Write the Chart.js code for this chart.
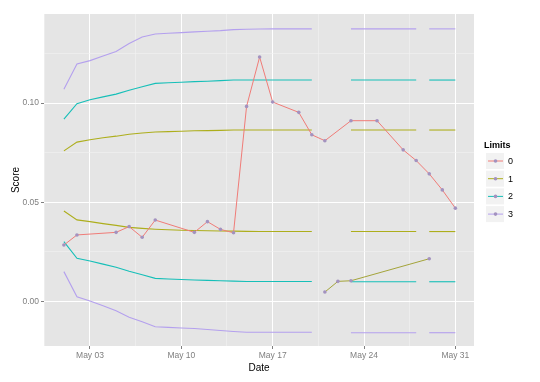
<!DOCTYPE html>
<html>
<head>
<meta charset="utf-8">
<script src="https://cdn.jsdelivr.net/npm/chart.js@4.4.1/dist/chart.umd.min.js"></script>
<style>
  html, body { margin: 0; padding: 0; background: #fff; }
  #wrap { width: 540px; height: 382px; position: relative; }
</style>
</head>
<body>
<div id="wrap"><canvas id="scoreChart"></canvas></div>
<script>
// day of May for every observed score
const scoreDays = [1, 2, 5, 6, 7, 8, 11, 12, 13, 14, 15, 16, 17, 19, 20, 21, 23, 25, 27, 28, 29, 30, 31];
const scoreValues = [0.0284, 0.0335, 0.0348, 0.0377, 0.0323, 0.0410, 0.0348, 0.0402, 0.0363, 0.0346, 0.0983,
  0.1232, 0.1005, 0.0953, 0.0840, 0.0810, 0.0911, 0.0911, 0.0764, 0.0710, 0.0643, 0.0562, 0.0470];

// the low run at the end of the month
const lowDays = [21, 22, 23, 29];
const lowValues = [0.0047, 0.0101, 0.0104, 0.0215];

// limit lines, one value per day (null = no limit that day)
const limitDays = [1, 2, 3, 4, 5, 6, 7, 8, 9, 10, 11, 12, 13, 14, 15, 16, 17, 18, 19, 20, 21, 22, 23, 24, 25, 26, 27, 28, 29, 30, 31];
const upper3 = [0.1070, 0.1197, 0.1214, 0.1237, 0.1260, 0.1300, 0.1333, 0.1348, 0.1352, 0.1355, 0.1359, 0.1362, 0.1365, 0.1370, 0.1372, 0.1373, 0.1374, 0.1374, 0.1374, 0.1374,
  null, null, 0.1374, 0.1374, 0.1374, 0.1374, 0.1374, 0.1374, 0.1374, 0.1374, 0.1374];
const upper2 = [0.0919, 0.0997, 0.1017, 0.1031, 0.1045, 0.1065, 0.1082, 0.1099, 0.1102, 0.1105, 0.1108, 0.1110, 0.1113, 0.1116, 0.1116, 0.1116, 0.1116, 0.1116, 0.1116, 0.1116,
  null, null, 0.1116, 0.1116, 0.1116, 0.1116, 0.1116, 0.1116, 0.1116, 0.1116, 0.1116];
const upper1 = [0.0759, 0.0803, 0.0815, 0.0825, 0.0833, 0.0843, 0.0849, 0.0854, 0.0856, 0.0858, 0.0860, 0.0861, 0.0862, 0.0864, 0.0864, 0.0864, 0.0864, 0.0864, 0.0864, 0.0864,
  null, null, 0.0864, 0.0864, 0.0864, 0.0864, 0.0864, 0.0864, 0.0864, 0.0864, 0.0864];
const lower1 = [0.0456, 0.0411, 0.0402, 0.0392, 0.0383, 0.0373, 0.0368, 0.0364, 0.0361, 0.0359, 0.0357, 0.0356, 0.0355, 0.0354, 0.0353, 0.0352, 0.0352, 0.0352, 0.0352, 0.0352,
  null, null, 0.0352, 0.0352, 0.0352, 0.0352, 0.0352, 0.0352, 0.0352, 0.0352, 0.0352];
const lower2 = [0.0301, 0.0217, 0.0204, 0.0188, 0.0172, 0.0152, 0.0134, 0.0116, 0.0113, 0.0110, 0.0108, 0.0106, 0.0104, 0.0102, 0.0100, 0.0100, 0.0100, 0.0100, 0.0100, 0.0100,
  null, null, 0.0099, 0.0099, 0.0099, 0.0099, 0.0099, 0.0099, 0.0099, 0.0099, 0.0099];
const lower3 = [0.0150, 0.0023, 0.0002, -0.0022, -0.0047, -0.0080, -0.0103, -0.0128, -0.0131, -0.0134, -0.0137, -0.0142, -0.0147, -0.0152, -0.0156, -0.0156, -0.0156, -0.0156, -0.0156, -0.0156,
  null, null, -0.0158, -0.0158, -0.0158, -0.0158, -0.0158, -0.0158, -0.0158, -0.0158, -0.0158];
// limits restart after these days
const limitBreaks = [28];

const xMajor = [3, 10, 17, 24, 31];
const xMinor = [-0.5, 6.5, 13.5, 20.5, 27.5];
const xLabels = ['May 03', 'May 10', 'May 17', 'May 24', 'May 31'];
const yMajor = [0, 0.05, 0.10];
const yMinor = [0.025, 0.075, 0.125];
const yLabels = ['0.00', '0.05', '0.10'];

const legendLabels = ['0', '1', '2', '3'];
const limitColors = ['#F07C78', '#ADAE1C', '#16BFB8', '#B4A0EE'];
const pointColor = '#A392BF';
const FONT = '"Liberation Sans", Arial, sans-serif';

const pts = (days, vals) => days.map((d, i) => ({ x: d, y: vals[i] }));

const breakSegment = ctx => limitBreaks.includes(ctx.p0.parsed.x) ? 'rgba(0,0,0,0)' : undefined;

function limitSet(vals, color) {
  return {
    data: pts(limitDays, vals),
    borderColor: color,
    borderWidth: 1.1,
    pointRadius: 0,
    spanGaps: false,
    segment: { borderColor: breakSegment },
  };
}

const isMajor = (list, v) => list.some(m => Math.abs(m - v) < 1e-9);

// grey panel, ggplot style
const panelBg = {
  id: 'panelBg',
  beforeDraw(chart) {
    const { ctx, chartArea: a } = chart;
    ctx.save();
    ctx.fillStyle = '#E5E5E5';
    ctx.fillRect(a.left, a.top, a.right - a.left, a.bottom - a.top);
    ctx.restore();
  },
};

// legend drawn by hand, keys with line and point
const limitLegend = {
  id: 'limitLegend',
  afterDraw(chart) {
    const ctx = chart.ctx;
    ctx.save();
    ctx.fillStyle = '#000';
    ctx.font = 'bold 9px ' + FONT;
    ctx.textBaseline = 'middle';
    ctx.fillText('Limits', 484, 146);
    legendLabels.forEach((lab, i) => {
      const y = 161 + i * 17.7;
      ctx.fillStyle = '#F2F2F2';
      ctx.fillRect(486, y - 8, 18, 16);
      ctx.strokeStyle = limitColors[i];
      ctx.lineWidth = 1;
      ctx.beginPath();
      ctx.moveTo(488, y);
      ctx.lineTo(503, y);
      ctx.stroke();
      ctx.fillStyle = pointColor;
      ctx.beginPath();
      ctx.arc(495.5, y, 1.8, 0, Math.PI * 2);
      ctx.fill();
      ctx.fillStyle = '#000';
      ctx.font = '9px ' + FONT;
      ctx.fillText(lab, 508, y + 0.5);
    });
    ctx.restore();
  },
};

new Chart(document.getElementById('scoreChart').getContext('2d'), {
  type: 'line',
  data: {
    datasets: [
      {
        data: pts(scoreDays, scoreValues),
        borderColor: limitColors[0],
        borderWidth: 1,
        pointRadius: 1.8,
        pointBackgroundColor: pointColor,
        pointBorderColor: pointColor,
        pointBorderWidth: 0,
      },
      {
        data: pts(lowDays, lowValues),
        borderColor: '#A4A43A',
        borderWidth: 1,
        pointRadius: 1.8,
        pointBackgroundColor: pointColor,
        pointBorderColor: pointColor,
        pointBorderWidth: 0,
      },
      limitSet(upper3, limitColors[3]),
      limitSet(upper2, limitColors[2]),
      limitSet(upper1, limitColors[1]),
      limitSet(lower1, limitColors[1]),
      limitSet(lower2, limitColors[2]),
      limitSet(lower3, limitColors[3]),
    ],
  },
  options: {
    responsive: true,
    maintainAspectRatio: false,
    animation: false,
    layout: { padding: { top: 14, right: 66, left: 0, bottom: 0 } },
    plugins: { legend: { display: false }, tooltip: { enabled: false } },
    scales: {
      x: {
        type: 'linear',
        min: -0.525,
        max: 32.43,
        afterBuildTicks: s => { s.ticks = xMinor.concat(xMajor).sort((a, b) => a - b).map(v => ({ value: v })); },
        afterFit: s => { s.height = 36; },
        ticks: {
          autoSkip: false,
          maxRotation: 0,
          padding: 2,
          color: '#7F7F7F',
          font: { family: FONT, size: 8.5 },
          callback: v => { const i = xMajor.indexOf(v); return i < 0 ? '' : xLabels[i]; },
        },
        grid: {
          drawTicks: true,
          tickLength: 3,
          color: c => xMajor.includes(c.tick.value) ? '#FFFFFF' : '#F2F2F2',
          lineWidth: c => xMajor.includes(c.tick.value) ? 1 : 0.6,
          tickColor: c => xMajor.includes(c.tick.value) ? '#7F7F7F' : 'rgba(0,0,0,0)',
        },
        border: { display: false },
        title: {
          display: true,
          text: 'Date',
          color: '#000',
          font: { family: FONT, size: 10 },
          padding: { top: 0, bottom: 8 },
        },
      },
      y: {
        type: 'linear',
        min: -0.0225,
        max: 0.1449,
        afterBuildTicks: s => { s.ticks = yMinor.concat(yMajor).sort((a, b) => a - b).map(v => ({ value: v })); },
        afterFit: s => { s.width = 44; },
        ticks: {
          autoSkip: false,
          padding: 2,
          color: '#7F7F7F',
          font: { family: FONT, size: 8.5 },
          callback: v => { const i = yMajor.findIndex(m => Math.abs(m - v) < 1e-9); return i < 0 ? '' : yLabels[i]; },
        },
        grid: {
          drawTicks: true,
          tickLength: 3,
          color: c => isMajor(yMajor, c.tick.value) ? '#FFFFFF' : '#F2F2F2',
          lineWidth: c => isMajor(yMajor, c.tick.value) ? 1 : 0.6,
          tickColor: c => isMajor(yMajor, c.tick.value) ? '#7F7F7F' : 'rgba(0,0,0,0)',
        },
        border: { display: false },
        title: {
          display: true,
          text: 'Score',
          color: '#000',
          font: { family: FONT, size: 10 },
          padding: { top: 10, bottom: 0 },
        },
      },
    },
  },
  plugins: [panelBg, limitLegend],
});
</script>
</body>
</html>
